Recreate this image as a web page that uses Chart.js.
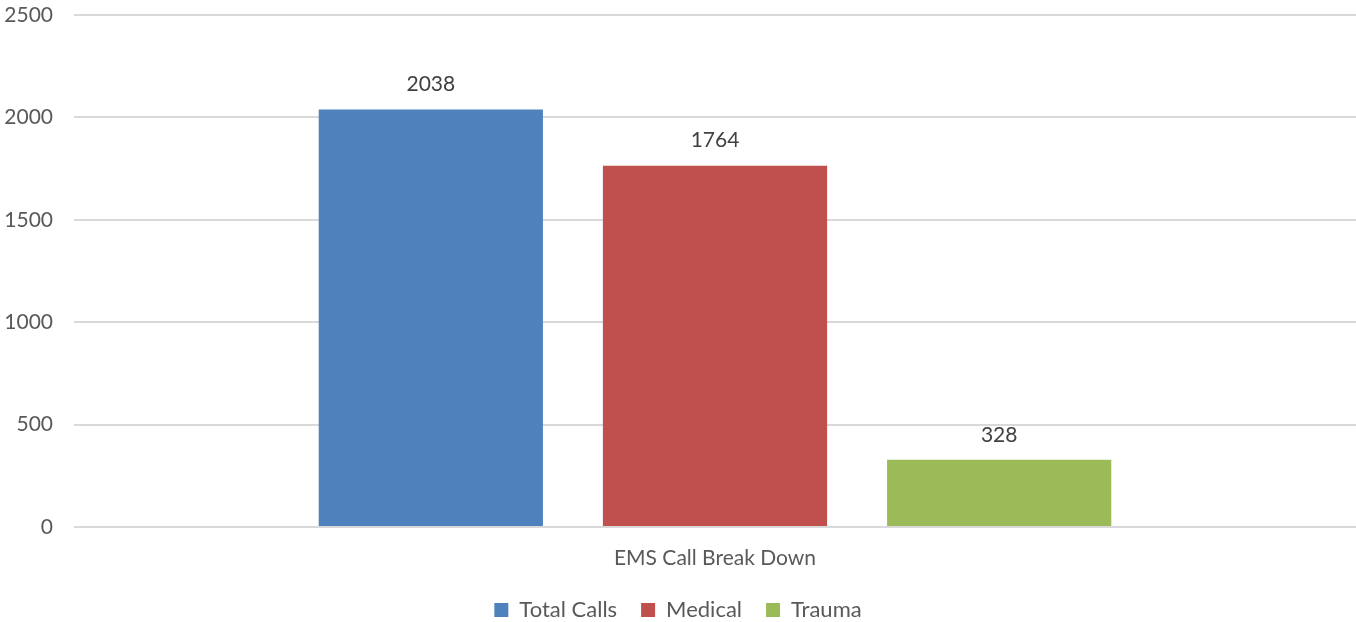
<!DOCTYPE html>
<html>
<head>
<meta charset="utf-8">
<script src="https://cdn.jsdelivr.net/npm/chart.js@4"></script>
<style>
  html, body { margin: 0; padding: 0; background: #fff; }
  #wrap { width: 1356px; height: 622px; }
</style>
</head>
<body>
<div id="wrap"><canvas id="chart"></canvas></div>
<script>
const categories = ['EMS Call Break Down'];
const seriesNames = ['Total Calls', 'Medical', 'Trauma'];
const seriesValues = [[2038], [1764], [328]];
const seriesColors = ['#4F81BD', '#C0504D', '#9BBB59'];
const yTicks = [0, 500, 1000, 1500, 2000, 2500];

const FONT = 'Lato, "Open Sans", sans-serif';

// value labels above each bar
const barLabels = {
  id: 'barLabels',
  afterDatasetsDraw(chart) {
    const c = chart.ctx;
    c.save();
    c.font = '21px ' + FONT;
    c.fillStyle = '#404040';
    c.textAlign = 'center';
    c.textBaseline = 'middle';
    chart.data.datasets.forEach((ds, i) => {
      chart.getDatasetMeta(i).data.forEach((bar, j) => {
        c.fillText(ds.data[j], bar.x, bar.y - 25);
      });
    });
    c.restore();
  }
};

new Chart(document.getElementById('chart'), {
  type: 'bar',
  data: {
    labels: categories,
    datasets: seriesNames.map((name, i) => ({
      label: name,
      data: seriesValues[i],
      backgroundColor: seriesColors[i],
      categoryPercentage: 0.665,
      barPercentage: 0.789
    }))
  },
  options: {
    responsive: true,
    maintainAspectRatio: false,
    animation: false,
    layout: { padding: { top: 15, right: 0, bottom: -9, left: 0 } },
    plugins: {
      tooltip: { enabled: false },
      legend: {
        position: 'bottom',
        labels: {
          font: { family: FONT, size: 22 },
          color: '#595959',
          boxWidth: 14,
          boxHeight: 14,
          padding: 24
        }
      }
    },
    scales: {
      x: {
        grid: { display: false },
        border: { display: false },
        afterFit(axis) { axis.height = 48; },
        ticks: { font: { family: FONT, size: 21 }, color: '#595959', padding: 11 }
      },
      y: {
        min: 0,
        max: 2500,
        afterBuildTicks(axis) { axis.ticks = yTicks.map(v => ({ value: v })); },
        afterFit(axis) { axis.width = 74; axis.paddingTop = 0; axis.paddingBottom = 0; },
        grid: { color: '#D9D9D9', lineWidth: 2, drawTicks: false },
        border: { display: false },
        ticks: {
          font: { family: FONT, size: 21 },
          color: '#595959',
          padding: 21,
          callback: v => String(v)
        }
      }
    }
  },
  plugins: [barLabels]
});
</script>
</body>
</html>
